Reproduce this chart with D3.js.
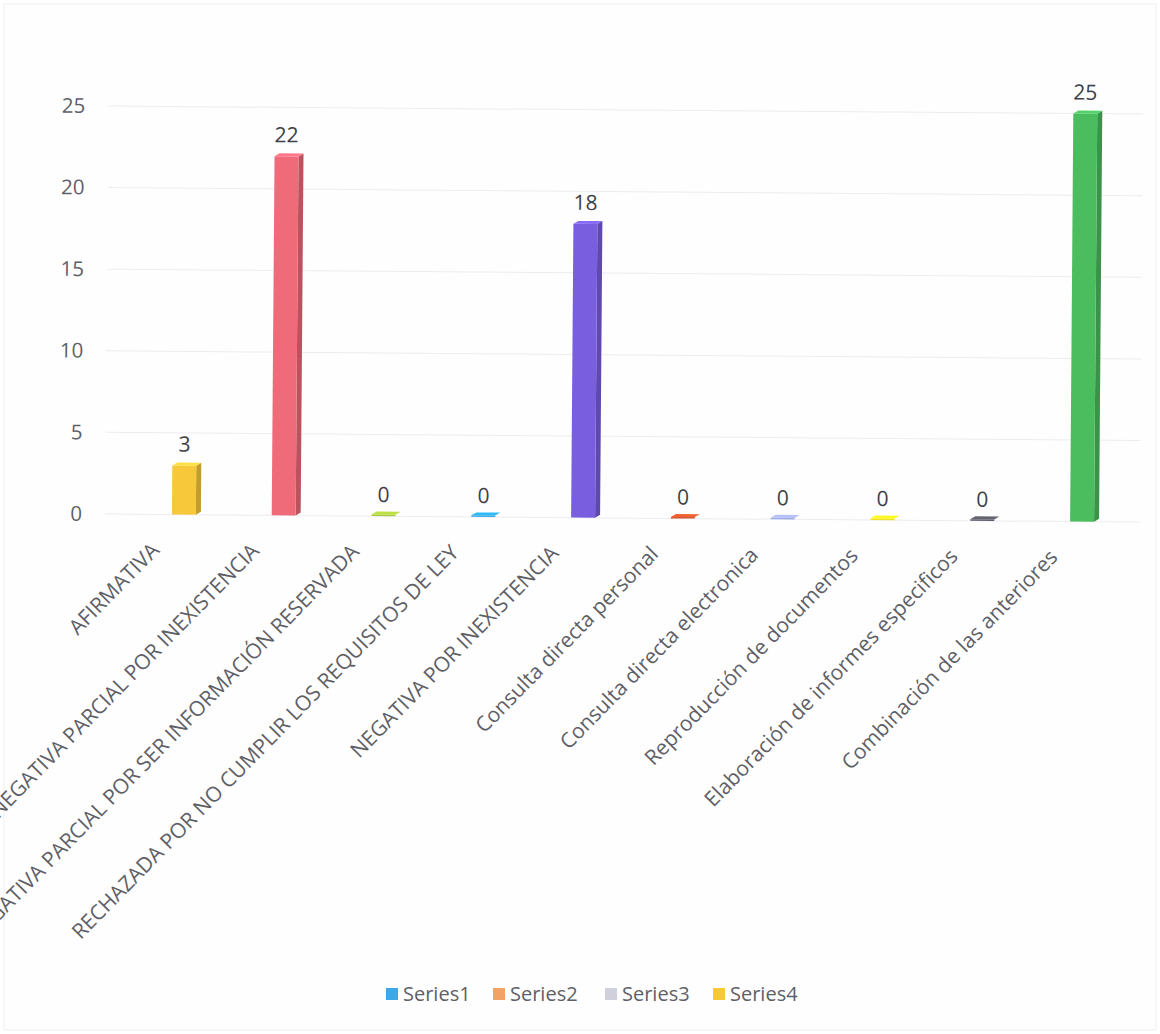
<!DOCTYPE html>
<html lang="es">
<head>
  <meta charset="UTF-8">
  <title>Chart</title>
  <style>
    *{ margin:0; padding:0; }
    body{ background:#fff; }
  </style>
  <script src="https://cdn.jsdelivr.net/npm/d3@7"></script>
</head>
<body>
  <svg id="mainsvg"></svg>
  <script>
    // datos
    const categories = [
      'AFIRMATIVA',
      'NEGATIVA PARCIAL POR INEXISTENCIA',
      'NEGATIVA PARCIAL POR SER INFORMACIÓN RESERVADA',
      'RECHAZADA POR NO CUMPLIR LOS REQUISITOS DE LEY',
      'NEGATIVA POR INEXISTENCIA',
      'Consulta directa personal',
      'Consulta directa electronica',
      'Reproducción de documentos',
      'Elaboración de informes especificos',
      'Combinación de las anteriores'
    ]
    const values = [3, 22, 0, 0, 18, 0, 0, 0, 0, 25]
    const barColors = ['#f7c93a', '#f06b7a', '#a9c93a', '#2aa6de', '#7a5ee0',
                       '#d9572f', '#a3aee6', '#f4e01c', '#5a5a66', '#4cbd5f']
    const yTicks = [0, 5, 10, 15, 20, 25]
    const legendNames = ['Series1', 'Series2', 'Series3', 'Series4']
    const legendColors = ['#3ea8e6', '#f2a264', '#d0d0dc', '#f7c93a']

    const width = 1160, height = 1034
    const svg = d3.select('#mainsvg').attr('width', width).attr('height', height)
      .style('display', 'block')

    const font = "'Open Sans', 'Noto Sans', sans-serif"
    const textColor = '#5f5f66'

    // faint frame like the printed sheet
    svg.append('rect').attr('x', 4).attr('y', 4).attr('width', width - 8).attr('height', height - 8)
      .attr('fill', '#fefeff').attr('stroke', '#f0f0f4')

    const x = d3.scaleBand().domain(categories).range([134, 1132]).paddingInner(0.76).paddingOuter(0.38)
    const y = d3.scaleLinear().domain([0, 25]).range([514, 106])

    // the scan is slightly tilted
    const g = svg.append('g').attr('transform', 'rotate(0.45, 110, 514)')

    // grid
    g.append('g').selectAll('line').data(yTicks).join('line')
      .attr('x1', 105).attr('x2', 1140)
      .attr('y1', d => y(d)).attr('y2', d => y(d))
      .attr('stroke', '#ececf2').attr('stroke-width', 1)

    // y axis labels
    const yAxis = d3.axisLeft(y).tickValues(yTicks).tickSize(0).tickPadding(0)
    const ya = g.append('g').attr('transform', 'translate(82,0)').call(yAxis)
    ya.select('.domain').remove()
    ya.selectAll('text').attr('font-family', font).attr('font-size', 20.5).attr('fill', textColor)

    // bars with a little depth
    const depth = 5
    const bw = x.bandwidth()
    const bars = g.append('g').selectAll('g').data(categories).join('g')

    bars.append('path') // side
      .attr('d', (d, i) => {
        const x0 = x(d) + bw, y0 = y(values[i]), yb = y(0)
        return `M${x0},${y0} L${x0 + depth},${y0 - depth * 0.6} L${x0 + depth},${yb - depth * 0.6} L${x0},${yb} Z`
      })
      .attr('fill', (d, i) => d3.color(barColors[i]).darker(0.7))

    bars.append('rect') // front
      .attr('x', d => x(d))
      .attr('y', (d, i) => y(values[i]) - (values[i] === 0 ? 1.5 : 0))
      .attr('width', bw)
      .attr('height', (d, i) => Math.max(y(0) - y(values[i]), 1.5))
      .attr('fill', (d, i) => barColors[i])

    bars.append('path') // top
      .attr('d', (d, i) => {
        const x0 = x(d), y0 = y(values[i]) - (values[i] === 0 ? 1.5 : 0)
        return `M${x0},${y0} L${x0 + depth},${y0 - depth * 0.6} L${x0 + bw + depth},${y0 - depth * 0.6} L${x0 + bw},${y0} Z`
      })
      .attr('fill', (d, i) => d3.color(barColors[i]).brighter(0.3))

    // value labels
    g.append('g').selectAll('text').data(categories).join('text')
      .attr('x', d => x(d) + bw / 2)
      .attr('y', (d, i) => y(values[i]) - 14)
      .attr('text-anchor', 'middle')
      .attr('font-family', font).attr('font-size', 21).attr('fill', '#404046')
      .text((d, i) => values[i])

    // category labels, rotated
    const xAxis = d3.axisBottom(x).tickSize(0).tickPadding(0)
    const xa = g.append('g').attr('transform', 'translate(0,514)').call(xAxis)
    xa.select('.domain').remove()
    xa.selectAll('text')
      .attr('font-family', font).attr('font-size', 21).attr('fill', textColor)
      .attr('text-anchor', 'end')
      .attr('dy', 0).attr('y', 0).attr('x', 0)
      .attr('transform', 'translate(-23,37) rotate(-46)')

    // legend
    const legend = svg.append('g').attr('transform', 'translate(386,994)')
    const offsets = [0, 107, 219, 327]
    const items = legend.selectAll('g').data(legendNames).join('g')
      .attr('transform', (d, i) => `translate(${offsets[i]},0)`)
    items.append('rect').attr('x', 0).attr('y', -6).attr('width', 12).attr('height', 12)
      .attr('fill', (d, i) => legendColors[i])
    items.append('text').attr('x', 17).attr('y', 7)
      .attr('font-family', font).attr('font-size', 20).attr('fill', textColor)
      .text(d => d)
  </script>
</body>
</html>
